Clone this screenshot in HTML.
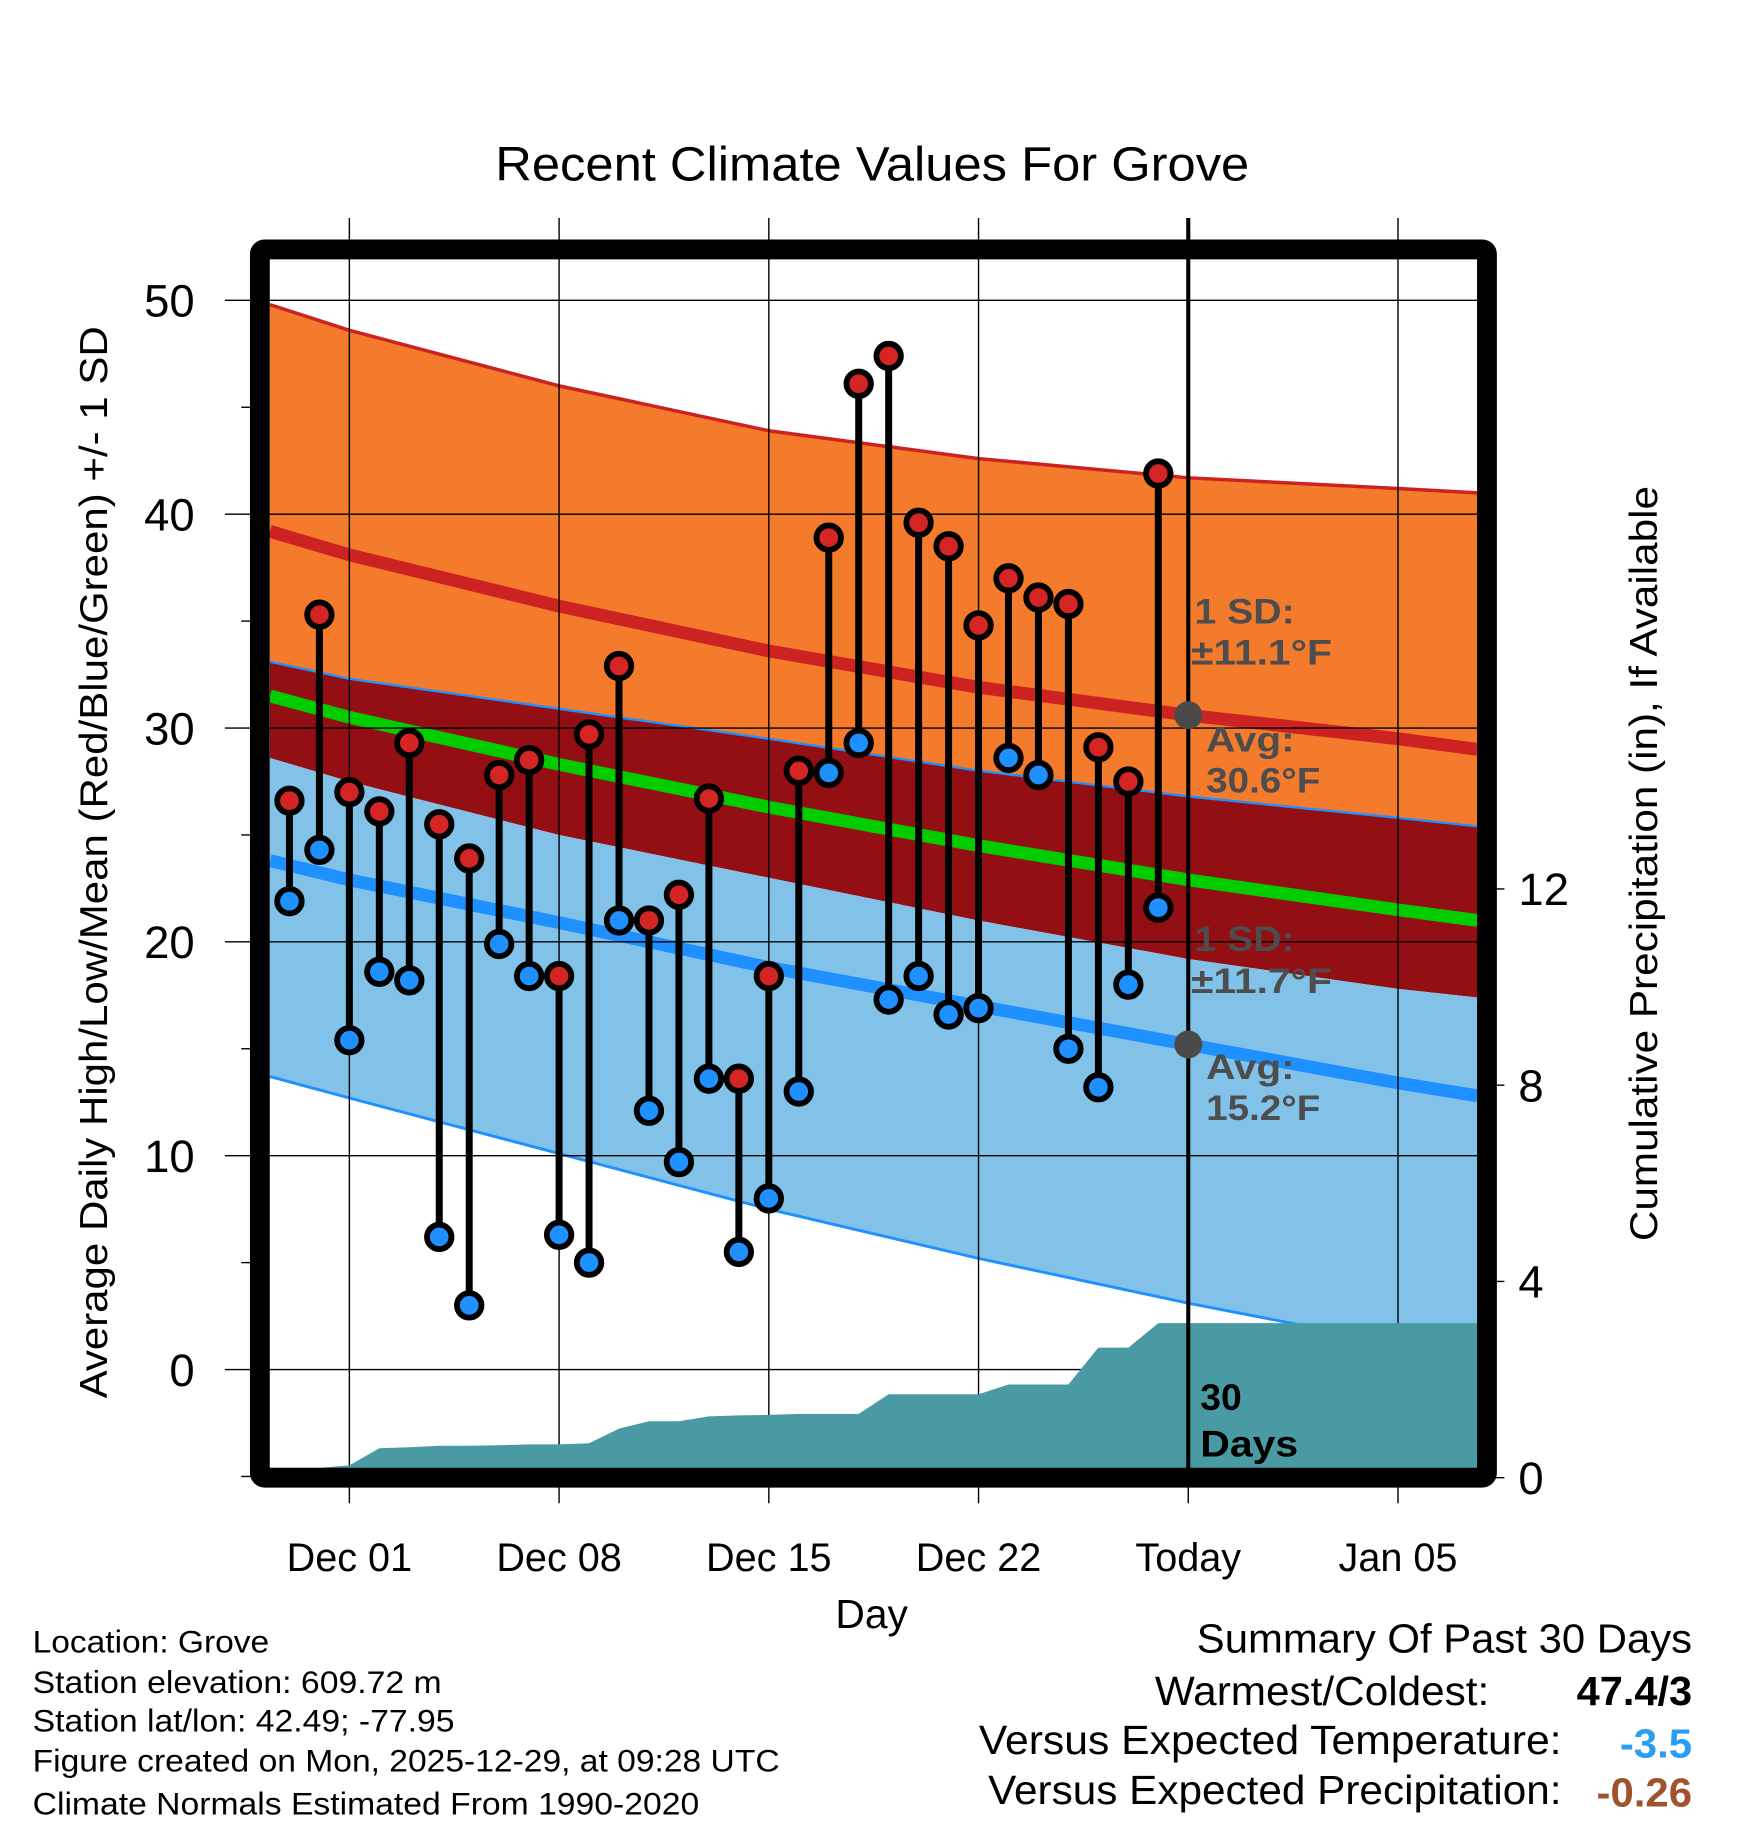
<!DOCTYPE html>
<html><head><meta charset="utf-8"><style>
html,body{margin:0;padding:0;background:#fff}
svg{display:block}
text{font-family:"Liberation Sans",Arial,sans-serif}
</style></head><body>
<svg id="chart" width="1748" height="1828" viewBox="0 0 1500 1568.6" xmlns="http://www.w3.org/2000/svg">
<rect width="1500" height="1568.6" fill="#fff"/>
<g id="bands"></g>
<g id="grid"></g>
<g id="precip"></g>
<g id="marks"></g>
<g id="frame"></g>
<g id="labels"></g>
</svg>
<script>
// ---- data ----
const obsDays = [-2,-1,0,1,2,3,4,5,6,7,8,9,10,11,12,13,14,15,16,17,18,19,20,21,22,23,24,25,26,27];
const highs = [26.6,35.3,27.0,26.1,29.3,25.5,23.9,27.8,28.5,18.4,29.7,32.9,21.0,22.2,26.7,13.6,18.4,28.0,38.9,46.1,47.4,39.6,38.5,34.8,37.0,36.1,35.8,29.1,27.5,41.9];
const lows = [21.9,24.3,15.4,18.6,18.2,6.2,3.0,19.9,18.4,6.3,5.0,21.0,12.1,9.7,13.6,5.5,8.0,13.0,27.9,29.3,17.3,18.4,16.6,16.9,28.6,27.8,15.0,13.2,18.0,21.6];
const precipCum = [0.2,0.2,0.25,0.6,0.62,0.65,0.65,0.66,0.68,0.68,0.7,1.0,1.15,1.15,1.25,1.27,1.28,1.3,1.3,1.3,1.7,1.7,1.7,1.7,1.9,1.9,1.9,2.65,2.65,3.15];
const normDays = [-2.65,0,7,14,21,28,35,37.65];
const highUpper = [49.8,48.6,46.0,43.9,42.6,41.7,41.2,41.0];
const highMean = [39.2,38.1,35.7,33.6,31.9,30.6,29.5,29.0];
const highLower = [33.1,32.3,30.9,29.5,28.0,26.8,25.8,25.4];
const meanMean = [31.5,30.5,28.3,26.3,24.5,22.9,21.5,21.0];
const lowUpper = [28.6,27.5,25.0,23.0,21.0,19.2,17.8,17.4];
const lowMean = [23.8,22.9,20.9,18.8,17.0,15.2,13.4,12.8];
const lowLower = [13.7,12.7,10.1,7.5,5.2,3.1,1.2,0.6];
const yTicks = [0,10,20,30,40,50];
const yMinor = [-5,5,15,25,35,45];
const pTicks = [0,4,8,12];
const xTickDays = [0,7,14,21,28,35];
const xTickLabels = ["Dec 01","Dec 08","Dec 15","Dec 22","Today","Jan 05"];

// ---- scales ----
const X0=231.7, X1=1268;
const x = d => 299.8 + d*25.71;
const y = v => 257.7 + (50-v)*18.35;
const yp = p => 1268 - p*42.1;
const NS="http://www.w3.org/2000/svg";
function mk(tag, attrs, parent){const e=document.createElementNS(NS,tag);for(const k in attrs)e.setAttribute(k,attrs[k]);document.getElementById(parent).appendChild(e);return e;}
function linePts(arr){return normDays.map((d,i)=>x(d).toFixed(1)+","+y(arr[i]).toFixed(1));}
function bandPath(top,bot){const a=linePts(top), b=linePts(bot).reverse();return "M"+a.join("L")+"L"+b.join("L")+"Z";}

let e;
e=mk("path",{d:bandPath(highUpper,highLower),fill:"#f47a2c"},"bands");


e=mk("path",{d:bandPath(highLower,lowUpper),fill:"#930f14"},"bands");


e=mk("path",{d:bandPath(lowUpper,lowLower),fill:"#82c2e8"},"bands");


const lines=[[highUpper,"#cc2222",3,"high-upper-line"],[highMean,"#cc2222",11,"high-mean-line"],[highLower,"#1e90ff",2,"high-lower-line"],[meanMean,"#00cc00",11,"mean-line"],[lowMean,"#1e90ff",11,"low-mean-line"],[lowLower,"#1e90ff",2.5,"low-lower-line"]];
lines.forEach(l=>{
  const p=mk("polyline",{points:linePts(l[0]).join(" "),fill:"none",stroke:l[1],"stroke-width":l[2]},"bands");
  
  
});

// grid
xTickDays.forEach(d=>{
  const g=mk("line",{x1:x(d),x2:x(d),y1:187,y2:1290,stroke:"#000","stroke-width":1.2},"grid");
  
  
});
yTicks.forEach(v=>{
  const g=mk("line",{x1:193,x2:X1,y1:y(v),y2:y(v),stroke:"#000","stroke-width":1.2},"grid");
  
  
});
yMinor.forEach(v=>{
  const g=mk("line",{x1:207,x2:220,y1:y(v),y2:y(v),stroke:"#000","stroke-width":1.2},"grid");
  
  
});
pTicks.forEach(p=>{
  const g=mk("line",{x1:1276,x2:1291,y1:yp(p),y2:yp(p),stroke:"#000","stroke-width":1.2},"grid");
  
  
});

// precip area
let pts=[[X0,yp(precipCum[0])]];
obsDays.forEach((d,i)=>pts.push([x(d),yp(precipCum[i])]));
pts.push([X1,yp(precipCum[precipCum.length-1])]);
const pd="M"+X0+",1262 L"+pts.map(p=>p[0].toFixed(1)+","+p[1].toFixed(1)).join(" L")+" L"+X1+",1262 Z";
e=mk("path",{d:pd,fill:"#4a9aa4"},"precip");



// today line
e=mk("line",{x1:x(28),x2:x(28),y1:187,y2:1268,stroke:"#000","stroke-width":3.5},"marks");


// stems & dots
obsDays.forEach((d,i)=>{
  const s=mk("line",{x1:x(d),x2:x(d),y1:y(highs[i]),y2:y(lows[i]),stroke:"#000","stroke-width":6},"marks");
  
  
});
obsDays.forEach((d,i)=>{
  const h=mk("circle",{cx:x(d),cy:y(highs[i]),r:10.5,fill:"#d42424",stroke:"#000","stroke-width":5},"marks");
  
  
  const l=mk("circle",{cx:x(d),cy:y(lows[i]),r:10.5,fill:"#1e90ff",stroke:"#000","stroke-width":5},"marks");
  
  
});
// normal markers
[[highMean,"high-avg-marker"],[lowMean,"low-avg-marker"]].forEach(m=>{
  const c=mk("circle",{cx:x(28),cy:y(m[0][5]),r:12,fill:"#4a4a4a"},"marks");
  
  
});

// frame
e=mk("rect",{x:223,y:214,width:1053,height:1054,fill:"none",stroke:"#000","stroke-width":17,rx:4},"frame");



// labels
function txt(s,a,name){const t=mk("text",a,"labels");t.textContent=s;return t;}
yTicks.forEach(v=>txt(String(v),{x:167,y:y(v)+14,"font-size":39,"text-anchor":"end"},"y-tick-label"));
pTicks.forEach(p=>txt(String(p),{x:1303,y:yp(p)+14,"font-size":39},"precip-tick-label"));
xTickDays.forEach((d,i)=>txt(xTickLabels[i],{x:x(d),y:1348,"font-size":34,"text-anchor":"middle"},"x-tick-label"));
</script>
<svg style="position:absolute;left:0;top:0" width="1748" height="1828" viewBox="0 0 1500 1568.6" xmlns="http://www.w3.org/2000/svg">
<text x="425" y="155" font-size="41" textLength="647" lengthAdjust="spacingAndGlyphs">Recent Climate Values For Grove</text>
<text transform="translate(92,1200) rotate(-90)" font-size="33" textLength="920" lengthAdjust="spacingAndGlyphs">Average Daily High/Low/Mean (Red/Blue/Green) +/- 1 SD</text>
<text transform="translate(1422,1065) rotate(-90)" font-size="33" textLength="648" lengthAdjust="spacingAndGlyphs">Cumulative Precipitation (in), If Available</text>
<text x="748" y="1397" font-size="35" text-anchor="middle">Day</text>
<g font-size="30" font-weight="bold" fill="#4d4d4d" lengthAdjust="spacingAndGlyphs">
<text x="1025" y="535" textLength="86" lengthAdjust="spacingAndGlyphs">1 SD:</text>
<text x="1022" y="570" textLength="121" lengthAdjust="spacingAndGlyphs">±11.1°F</text>
<text x="1035" y="645" textLength="76" lengthAdjust="spacingAndGlyphs">Avg:</text>
<text x="1035" y="680" textLength="98" lengthAdjust="spacingAndGlyphs">30.6°F</text>
<text x="1025" y="816" textLength="86" lengthAdjust="spacingAndGlyphs">1 SD:</text>
<text x="1022" y="852" textLength="121" lengthAdjust="spacingAndGlyphs">±11.7°F</text>
<text x="1035" y="926" textLength="76" lengthAdjust="spacingAndGlyphs">Avg:</text>
<text x="1035" y="961" textLength="98" lengthAdjust="spacingAndGlyphs">15.2°F</text>
</g>
<text x="1030" y="1210" font-size="32" font-weight="bold">30</text>
<text x="1030" y="1250" font-size="32" font-weight="bold" textLength="84" lengthAdjust="spacingAndGlyphs">Days</text>
<g font-size="27">
<text x="28" y="1418" textLength="203" lengthAdjust="spacingAndGlyphs">Location: Grove</text>
<text x="28" y="1453" textLength="351" lengthAdjust="spacingAndGlyphs">Station elevation: 609.72 m</text>
<text x="28" y="1486" textLength="362" lengthAdjust="spacingAndGlyphs">Station lat/lon: 42.49; -77.95</text>
<text x="28" y="1520" textLength="641" lengthAdjust="spacingAndGlyphs">Figure created on Mon, 2025-12-29, at 09:28 UTC</text>
<text x="28" y="1557" textLength="572" lengthAdjust="spacingAndGlyphs">Climate Normals Estimated From 1990-2020</text>
</g>
<g font-size="35">
<text x="1027" y="1418" textLength="425" lengthAdjust="spacingAndGlyphs">Summary Of Past 30 Days</text>
<text x="991" y="1463" textLength="287" lengthAdjust="spacingAndGlyphs">Warmest/Coldest:</text>
<text x="1353" y="1463" font-weight="bold" textLength="99" lengthAdjust="spacingAndGlyphs">47.4/3</text>
<text x="840" y="1505" textLength="500" lengthAdjust="spacingAndGlyphs">Versus Expected Temperature:</text>
<text x="1390" y="1508" font-weight="bold" fill="#2a9df4" textLength="62" lengthAdjust="spacingAndGlyphs">-3.5</text>
<text x="848" y="1548" textLength="492" lengthAdjust="spacingAndGlyphs">Versus Expected Precipitation:</text>
<text x="1370" y="1550" font-weight="bold" fill="#a0522d" textLength="82" lengthAdjust="spacingAndGlyphs">-0.26</text>
</g>
</svg>
</body></html>
